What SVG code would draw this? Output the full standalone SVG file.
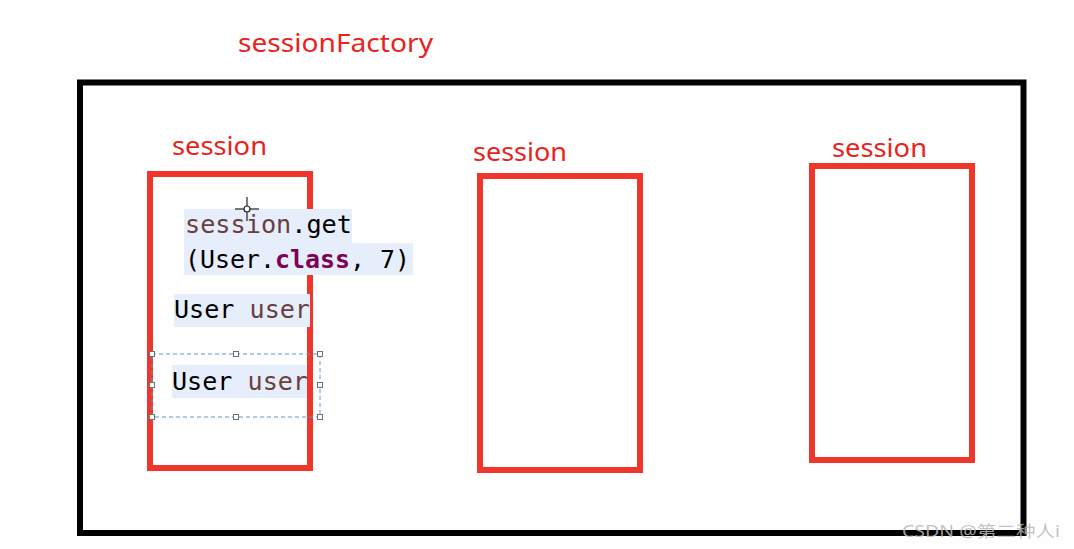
<svg xmlns="http://www.w3.org/2000/svg" width="1074" height="549" viewBox="0 0 1074 549">
  <style>
    .red-label { font-family: "Microsoft YaHei", "Noto Sans", "Liberation Sans", sans-serif; font-size: 26px; fill: #e8231c; }
    .session-box { fill: none; stroke: #f0352a; stroke-width: 6; }
    .code { font-family: "Consolas", "DejaVu Sans Mono", "Liberation Mono", monospace; font-size: 25px; fill: #000000; }
    .var { fill: #6a3e3e; }
    .kw { fill: #7f0055; font-weight: bold; }
    .hl { fill: #e5eefa; }
    .handle { fill: #ffffff; stroke: #707070; stroke-width: 1; }
    .watermark { font-family: "Microsoft YaHei", "Noto Sans", "Noto Sans CJK SC", sans-serif; font-size: 16px; fill: #b8b8b8; fill-opacity: 0.85; }
  </style>
  <rect x="0" y="0" width="1074" height="549" fill="#fefefe"/>

  <g id="sessionFactory">
    <rect x="80" y="82.5" width="943.5" height="450.5" fill="none" stroke="#000000" stroke-width="6"/>
    <text class="red-label" x="238" y="52" textLength="195" lengthAdjust="spacingAndGlyphs">sessionFactory</text>
  </g>

  <g id="session1">
    <rect class="session-box" x="150" y="174" width="160" height="294"/>
    <text class="red-label" x="172" y="155" textLength="95" lengthAdjust="spacingAndGlyphs">session</text>
    <rect class="hl" x="184" y="209" width="168" height="34"/>
    <rect class="hl" x="184" y="243" width="229" height="32"/>
    <text class="code" x="185" y="233" textLength="167" lengthAdjust="spacingAndGlyphs"><tspan class="var">session</tspan>.get</text>
    <text class="code" x="185" y="268" textLength="225" lengthAdjust="spacingAndGlyphs">(User.<tspan class="kw">class</tspan>, 7)</text>
    <rect class="hl" x="174" y="294" width="136" height="33"/>
    <text class="code" x="174" y="318" textLength="136" lengthAdjust="spacingAndGlyphs">User <tspan class="var">user</tspan></text>
    <rect class="hl" x="172" y="365" width="135" height="33"/>
    <text class="code" x="172" y="390" textLength="136" lengthAdjust="spacingAndGlyphs">User <tspan class="var">user</tspan></text>
    <rect x="152" y="354" width="168" height="63" fill="none" stroke="#5b9bd5" stroke-width="1" stroke-dasharray="4 3"/>
    <rect class="handle" x="149.5" y="351.5" width="5" height="5"/>
    <rect class="handle" x="233.5" y="351.5" width="5" height="5"/>
    <rect class="handle" x="317.5" y="351.5" width="5" height="5"/>
    <rect class="handle" x="149.5" y="382.5" width="5" height="5"/>
    <rect class="handle" x="317.5" y="382.5" width="5" height="5"/>
    <rect class="handle" x="149.5" y="414.5" width="5" height="5"/>
    <rect class="handle" x="233.5" y="414.5" width="5" height="5"/>
    <rect class="handle" x="317.5" y="414.5" width="5" height="5"/>
    <g id="cursor" stroke="#222222" stroke-width="1.2" fill="none">
      <line x1="235" y1="209" x2="259" y2="209"/>
      <line x1="247" y1="197" x2="247" y2="221"/>
      <circle cx="247" cy="209" r="3" fill="#ffffff"/>
    </g>
  </g>

  <g id="session2">
    <rect class="session-box" x="480" y="176" width="160" height="294"/>
    <text class="red-label" x="473" y="161" textLength="94" lengthAdjust="spacingAndGlyphs">session</text>
  </g>

  <g id="session3">
    <rect class="session-box" x="812" y="166" width="160" height="294"/>
    <text class="red-label" x="832" y="157" textLength="95" lengthAdjust="spacingAndGlyphs">session</text>
  </g>

  <g id="connectors"></g>

  <text class="watermark" x="902" y="537" textLength="158" lengthAdjust="spacingAndGlyphs">CSDN @第二种人i</text>
</svg>
